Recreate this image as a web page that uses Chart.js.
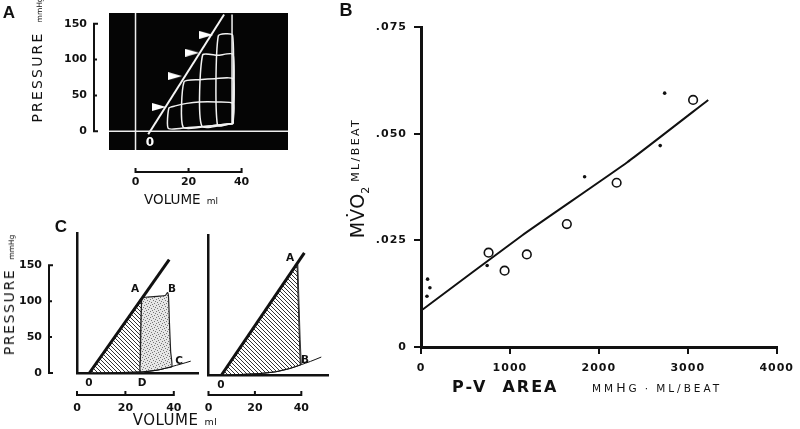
<!DOCTYPE html>
<html>
<head>
<meta charset="utf-8">
<script src="https://cdn.jsdelivr.net/npm/chart.js@4"></script>
<style>
  html, body { margin: 0; padding: 0; background: #fff; }
  #page { position: relative; width: 800px; height: 429px; overflow: hidden; background: #fff; }
  canvas { position: absolute; }
  .t { position: absolute; font-family: "DejaVu Sans", sans-serif; color: #111; white-space: nowrap;
       line-height: 1; transform: translate(-50%, -50%); z-index: 2; }
  .rot { transform: translate(-50%, -50%) rotate(-90deg); }
  .pl { font-family: "Liberation Sans", Arial, sans-serif; font-weight: bold; }
  .lb { font-weight: bold; font-size: 10.5px; }
</style>
</head>
<body>
<div id="page">
  <canvas id="cA" width="330" height="215" style="left:0;top:0"></canvas>
  <canvas id="cB" width="470" height="429" style="left:330px;top:0"></canvas>
  <canvas id="cCL" width="200" height="214" style="left:0;top:215px"></canvas>
  <canvas id="cCR" width="135" height="214" style="left:200px;top:215px"></canvas>

  <!-- panel letters -->
  <div class="t pl" style="left:9px;top:12px;font-size:17px">A</div>
  <div class="t pl" style="left:346px;top:10px;font-size:18px">B</div>
  <div class="t pl" style="left:61px;top:226px;font-size:17px">C</div>

  <!-- panel A titles -->
  <div class="t rot" style="left:37px;top:60px;font-size:14px;letter-spacing:2.2px">PRESSURE<span style="font-size:7.5px;letter-spacing:0;margin-left:9px">mmHg</span></div>
  <div class="t" style="left:181px;top:200px;font-size:13.5px">VOLUME<span style="font-size:9px;margin-left:6px">ml</span></div>
  <div class="t" style="left:150px;top:142px;font-size:12px;font-weight:bold;color:#fff">0</div>

  <!-- panel B titles -->
  <div class="t rot" style="left:357px;top:178px;font-size:19px">MV&#775;O<span style="font-size:11px;position:relative;top:5px">2</span><span style="font-size:11px;letter-spacing:2.4px;margin-left:5px;position:relative;top:-5px">ML/BEAT</span></div>
  <div class="t" style="left:452px;top:387px;font-size:16px;font-weight:bold;letter-spacing:2px;transform:translate(0,-50%)">P-V&nbsp;&nbsp;AREA</div>
  <div class="t" style="left:592px;top:388px;font-size:10.5px;letter-spacing:3px;transform:translate(0,-50%)">MM<span style="font-size:12.5px">H</span>G&thinsp;&middot;&thinsp;ML/BEAT</div>

  <!-- panel C titles -->
  <div class="t rot" style="left:9px;top:295px;font-size:14px;letter-spacing:1.6px">PRESSURE<span style="font-size:7.5px;letter-spacing:0;margin-left:9px">mmHg</span></div>
  <div class="t" style="left:175px;top:420px;font-size:15px;letter-spacing:0.5px">VOLUME<span style="font-size:9.5px;margin-left:6px">ml</span></div>

  <!-- panel C point labels -->
  <div class="t lb" style="left:135px;top:288px">A</div>
  <div class="t lb" style="left:172px;top:288px">B</div>
  <div class="t lb" style="left:179px;top:360px">C</div>
  <div class="t lb" style="left:142px;top:382px">D</div>
  <div class="t lb" style="left:89px;top:382px">0</div>
  <div class="t lb" style="left:290px;top:257px">A</div>
  <div class="t lb" style="left:305px;top:359px">B</div>
  <div class="t lb" style="left:221px;top:384px">0</div>
</div>

<script>
// ---- panel B: oxygen consumption vs pressure-volume area ----
const openArea = [760, 940, 1190, 1640, 2200, 3060];
const openMvo2 = [0.0221, 0.0179, 0.0217, 0.0288, 0.0385, 0.0579];
const dotArea = [74, 100, 67, 744, 1840, 2690, 2740];
const dotMvo2 = [0.0159, 0.0139, 0.0119, 0.0191, 0.0399, 0.0472, 0.0595];
const fitArea = [19, 1140, 2320, 3230];
const fitMvo2 = [0.0088, 0.0262, 0.0433, 0.0579];
const areaTicks = [0, 1000, 2000, 3000, 4000];
const mvo2Ticks = [0, 0.025, 0.05, 0.075];
const mvo2Labels = ['0', '.025', '.050', '.075'];

// ---- panel A: oscilloscope loops ----
const espvrAV = [4.8, 33.4];
const espvrAP = [-4, 163];
const loopsAV = [
  [36.8, 36.8, 30.6, 24, 19.3, 15, 12.6, 12.4, 20, 28, 36.8],
  [36.8, 36.8, 30, 24, 18.3, 18, 28, 36.8],
  [36.8, 36.8, 31, 25.3, 25, 36.8],
  [36.6, 36.6, 31.2, 30.9, 36.6],
  [36.4, 36.4]
];
const loopsAP = [
  [11, 39, 41, 41, 39, 35.5, 32.5, 4, 5.5, 7.5, 11],
  [11, 73, 73.5, 72, 69, 5.5, 7.5, 11],
  [11, 107, 106, 106.5, 7.5, 11],
  [11, 134, 133, 8.5, 11],
  [11, 163]
];
const arrowV = [8.9, 14.9, 21.4, 26.7];
const arrowP = [34, 77, 109.5, 134.5];

// ---- panel C: schematic loops ----
const espvrLV = [5.1, 38.1];
const espvrLP = [0, 158];
const peLV = [5.1, 26.7, 26.4, 26.2, 26.2, 20, 12, 5.1];
const peLP = [0, 105, 60, 20, 1.5, 0.8, 0.3, 0];
const ewLV = [26.7, 30, 34, 36.5, 37.4, 37.8, 38.2, 38.7, 39.2, 37, 34, 30, 26.2, 26.2, 26.4, 26.7];
const ewLP = [105, 106, 107, 108, 112, 107, 70, 30, 9, 7, 4.5, 2.6, 1.5, 20, 60, 105];
const edpvrLV = [5.1, 12, 20, 26.2, 30, 34, 37, 39.2, 43, 47];
const edpvrLP = [0, 0.3, 0.8, 1.5, 2.6, 4.5, 7, 9, 12.5, 16.5];

const espvrRV = [5.6, 41.3];
const espvrRP = [0, 170];
const peRV = [5.6, 38.2, 38.7, 39.2, 39.6, 35, 29, 22, 15, 5.6];
const peRP = [0, 155, 100, 50, 14, 9, 4.5, 2, 0.8, 0];
const ejRV = [38.5, 39, 39.5, 40];
const ejRP = [154, 100, 50, 14];
const edpvrRV = [5.6, 15, 22, 29, 35, 39.6, 44, 48.6];
const edpvrRP = [0, 0.8, 2, 4.5, 9, 14, 19, 25];

const pressTicks = [0, 50, 100, 150];
const volTicks = [0, 20, 40];

function pts(xs, ys) { return xs.map((x, i) => ({ x: x, y: ys[i] })); }

/* brackets, black screen and zero lines drawn from the chart's own scales */
const bracketPlugin = {
  id: 'bracket',
  beforeDraw(chart, args, o) {
    if (!o.black) return;
    const a = chart.chartArea, c = chart.ctx;
    c.save();
    c.fillStyle = '#050505';
    c.fillRect(a.left, a.top, a.right - a.left, a.bottom - a.top);
    const x0 = chart.scales.x.getPixelForValue(0);
    const y0 = chart.scales.y.getPixelForValue(0);
    c.strokeStyle = '#eee';
    c.lineWidth = 1.5;
    c.beginPath();
    c.moveTo(x0, a.top); c.lineTo(x0, a.bottom);
    c.moveTo(a.left, y0); c.lineTo(a.right, y0);
    c.stroke();
    c.restore();
  },
  afterDraw(chart, args, o) {
    const c = chart.ctx;
    c.save();
    c.strokeStyle = '#111';
    c.fillStyle = '#111';
    c.lineWidth = 2;
    c.font = 'bold 11px "DejaVu Sans"';
    if (o.yb) {
      const s = chart.scales.y, b = o.yb;
      const ys = pressTicks.map(v => s.getPixelForValue(v));
      c.beginPath();
      c.moveTo(b.at, ys[0] + 1); c.lineTo(b.at, ys[ys.length - 1] - 1);
      ys.forEach((y, i) => {
        const len = (i === 0 || i === ys.length - 1) ? b.len + 1 : b.len;
        c.moveTo(b.at - 1, y); c.lineTo(b.at + len, y);
      });
      c.stroke();
      c.textAlign = 'right';
      c.textBaseline = 'middle';
      ys.forEach((y, i) => c.fillText(String(pressTicks[i]), b.at - 7, y));
    }
    if (o.xb) {
      const s = chart.scales.x, b = o.xb;
      const xs = volTicks.map(v => s.getPixelForValue(v));
      c.beginPath();
      c.moveTo(xs[0] - 1, b.at); c.lineTo(xs[xs.length - 1] + 1, b.at);
      xs.forEach(x => { c.moveTo(x, b.at + 1); c.lineTo(x, b.at - b.len); });
      c.stroke();
      c.textAlign = 'center';
      c.textBaseline = 'middle';
      xs.forEach((x, i) => c.fillText(String(volTicks[i]), x, b.at + b.gap));
    }
    c.restore();
  }
};

const spacing = {
  id: 'spacing',
  beforeDraw(chart) { chart.ctx.letterSpacing = '1px'; },
  afterDraw(chart) { chart.ctx.letterSpacing = '0px'; }
};

function arrowImage() {
  const c = document.createElement('canvas');
  c.width = 14; c.height = 8;
  const g = c.getContext('2d');
  g.fillStyle = '#fff';
  g.beginPath(); g.moveTo(0, 0); g.lineTo(14, 4); g.lineTo(0, 8); g.closePath(); g.fill();
  return c;
}

function hatchPattern(ctx) {
  const c = document.createElement('canvas');
  c.width = 4; c.height = 4;
  const g = c.getContext('2d');
  g.fillStyle = '#fff'; g.fillRect(0, 0, 4, 4);
  g.strokeStyle = '#333'; g.lineWidth = 1;
  g.beginPath();
  g.moveTo(0, 0); g.lineTo(4, 4);
  g.moveTo(-1, 3); g.lineTo(1, 5);
  g.moveTo(3, -1); g.lineTo(5, 1);
  g.stroke();
  return ctx.createPattern(c, 'repeat');
}

function stipplePattern(ctx) {
  const c = document.createElement('canvas');
  c.width = 6; c.height = 6;
  const g = c.getContext('2d');
  g.fillStyle = '#e6e6e6'; g.fillRect(0, 0, 6, 6);
  g.fillStyle = '#777';
  [[0, 0], [3, 1], [1, 3], [4, 4], [5, 2], [2, 5]].forEach(p => g.fillRect(p[0], p[1], 1, 1));
  return ctx.createPattern(c, 'repeat');
}

const noUi = { legend: { display: false }, tooltip: { enabled: false } };

// ---------- panel A ----------
const loopSets = loopsAV.map((vs, i) => ({
  data: pts(vs, loopsAP[i]), showLine: true, borderColor: '#f2f2f2', borderWidth: 1.5,
  pointRadius: 0, tension: 0.2
}));
new Chart(document.getElementById('cA'), {
  type: 'scatter',
  data: {
    datasets: [
      { data: pts(arrowV, arrowP), pointStyle: arrowImage(), pointRadius: 7, showLine: false },
      { data: pts(espvrAV, espvrAP), showLine: true, borderColor: '#f5f5f5', borderWidth: 2, pointRadius: 0 },
      ...loopSets
    ]
  },
  options: {
    responsive: false, animation: false,
    layout: { padding: { left: 109, right: 42, top: 13, bottom: 65 } },
    plugins: Object.assign({}, noUi, { bracket: { black: true, yb: { at: 94, len: 3 }, xb: { at: 172, len: 4, gap: 10 } } }),
    scales: {
      x: { type: 'linear', min: -10, max: 57.5, display: false },
      y: { type: 'linear', min: -26, max: 165, display: false }
    }
  },
  plugins: [bracketPlugin]
});

// ---------- panel B ----------
const tickFont = { family: 'DejaVu Sans', size: 11, weight: 'bold' };
const outTicks = { display: true, drawOnChartArea: false, drawTicks: true, tickLength: 7, color: '#111', lineWidth: 2 };
new Chart(document.getElementById('cB'), {
  type: 'scatter',
  data: {
    datasets: [
      { data: pts(fitArea, fitMvo2), showLine: true, borderColor: '#111', borderWidth: 2, pointRadius: 0, tension: 0.15 },
      { data: pts(openArea, openMvo2), pointRadius: 4.3, pointBorderWidth: 1.6,
        pointBackgroundColor: '#fff', pointBorderColor: '#111' },
      { data: pts(dotArea, dotMvo2), pointRadius: 1.8, pointBorderWidth: 0, pointBackgroundColor: '#111' }
    ]
  },
  options: {
    responsive: false, animation: false,
    layout: { padding: { left: 0, right: 19, top: 27, bottom: 52 } },
    plugins: noUi,
    scales: {
      x: {
        type: 'linear', min: 0, max: 4000,
        afterBuildTicks: s => { s.ticks = areaTicks.map(v => ({ value: v })); },
        ticks: { color: '#111', font: tickFont, padding: 8, maxRotation: 0, autoSkip: false,
                 callback: (v, i) => String(areaTicks[i]) },
        grid: outTicks,
        border: { display: true, color: '#111', width: 3 },
        afterFit: s => { s.height = 30; }
      },
      y: {
        type: 'linear', min: 0, max: 0.075,
        afterBuildTicks: s => { s.ticks = mvo2Ticks.map(v => ({ value: v })); },
        ticks: { color: '#111', font: tickFont, padding: 7, callback: (v, i) => mvo2Labels[i] },
        grid: outTicks,
        border: { display: true, color: '#111', width: 3 },
        afterFit: s => { s.width = 91; }
      }
    }
  },
  plugins: [spacing]
});

// ---------- panel C ----------
function axisOnly(max, horiz) {
  return {
    type: 'linear', min: 0, max: max,
    ticks: { display: false },
    grid: { display: false, drawTicks: false },
    border: { display: true, color: '#111', width: 2.5 },
    afterFit: s => { if (horiz) s.height = 0; else s.width = 0; }
  };
}

const ctxL = document.getElementById('cCL').getContext('2d');
new Chart(ctxL, {
  type: 'scatter',
  data: {
    datasets: [
      { data: pts(espvrLV, espvrLP), showLine: true, borderColor: '#111', borderWidth: 3, pointRadius: 0 },
      { data: pts(edpvrLV, edpvrLP), showLine: true, borderColor: '#111', borderWidth: 1, pointRadius: 0, tension: 0.3 },
      { data: pts(ewLV, ewLP), showLine: true, borderColor: '#222', borderWidth: 1.2, pointRadius: 0,
        fill: 'shape', backgroundColor: stipplePattern(ctxL), tension: 0.2 },
      { data: pts(peLV, peLP), showLine: true, borderColor: '#222', borderWidth: 1, pointRadius: 0,
        fill: 'shape', backgroundColor: hatchPattern(ctxL) }
    ]
  },
  options: {
    responsive: false, animation: false,
    layout: { padding: { left: 77, right: 2, top: 18, bottom: 56 } },
    plugins: Object.assign({}, noUi, { bracket: { yb: { at: 49, len: 3 }, xb: { at: 180, len: 4, gap: 13 } } }),
    scales: { x: axisOnly(50, true), y: axisOnly(195, false) }
  },
  plugins: [bracketPlugin]
});

const ctxR = document.getElementById('cCR').getContext('2d');
new Chart(ctxR, {
  type: 'scatter',
  data: {
    datasets: [
      { data: pts(espvrRV, espvrRP), showLine: true, borderColor: '#111', borderWidth: 3, pointRadius: 0 },
      { data: pts(ejRV, ejRP), showLine: true, borderColor: '#333', borderWidth: 1, pointRadius: 0 },
      { data: pts(edpvrRV, edpvrRP), showLine: true, borderColor: '#111', borderWidth: 1, pointRadius: 0, tension: 0.3 },
      { data: pts(peRV, peRP), showLine: true, borderColor: '#222', borderWidth: 1.2, pointRadius: 0,
        fill: 'shape', backgroundColor: hatchPattern(ctxR) }
    ]
  },
  options: {
    responsive: false, animation: false,
    layout: { padding: { left: 8.5, right: 7, top: 20, bottom: 54 } },
    plugins: Object.assign({}, noUi, { bracket: { xb: { at: 180, len: 4, gap: 13 } } }),
    scales: { x: axisOnly(51.5, true), y: axisOnly(195, false) }
  },
  plugins: [bracketPlugin]
});
</script>
</body>
</html>
